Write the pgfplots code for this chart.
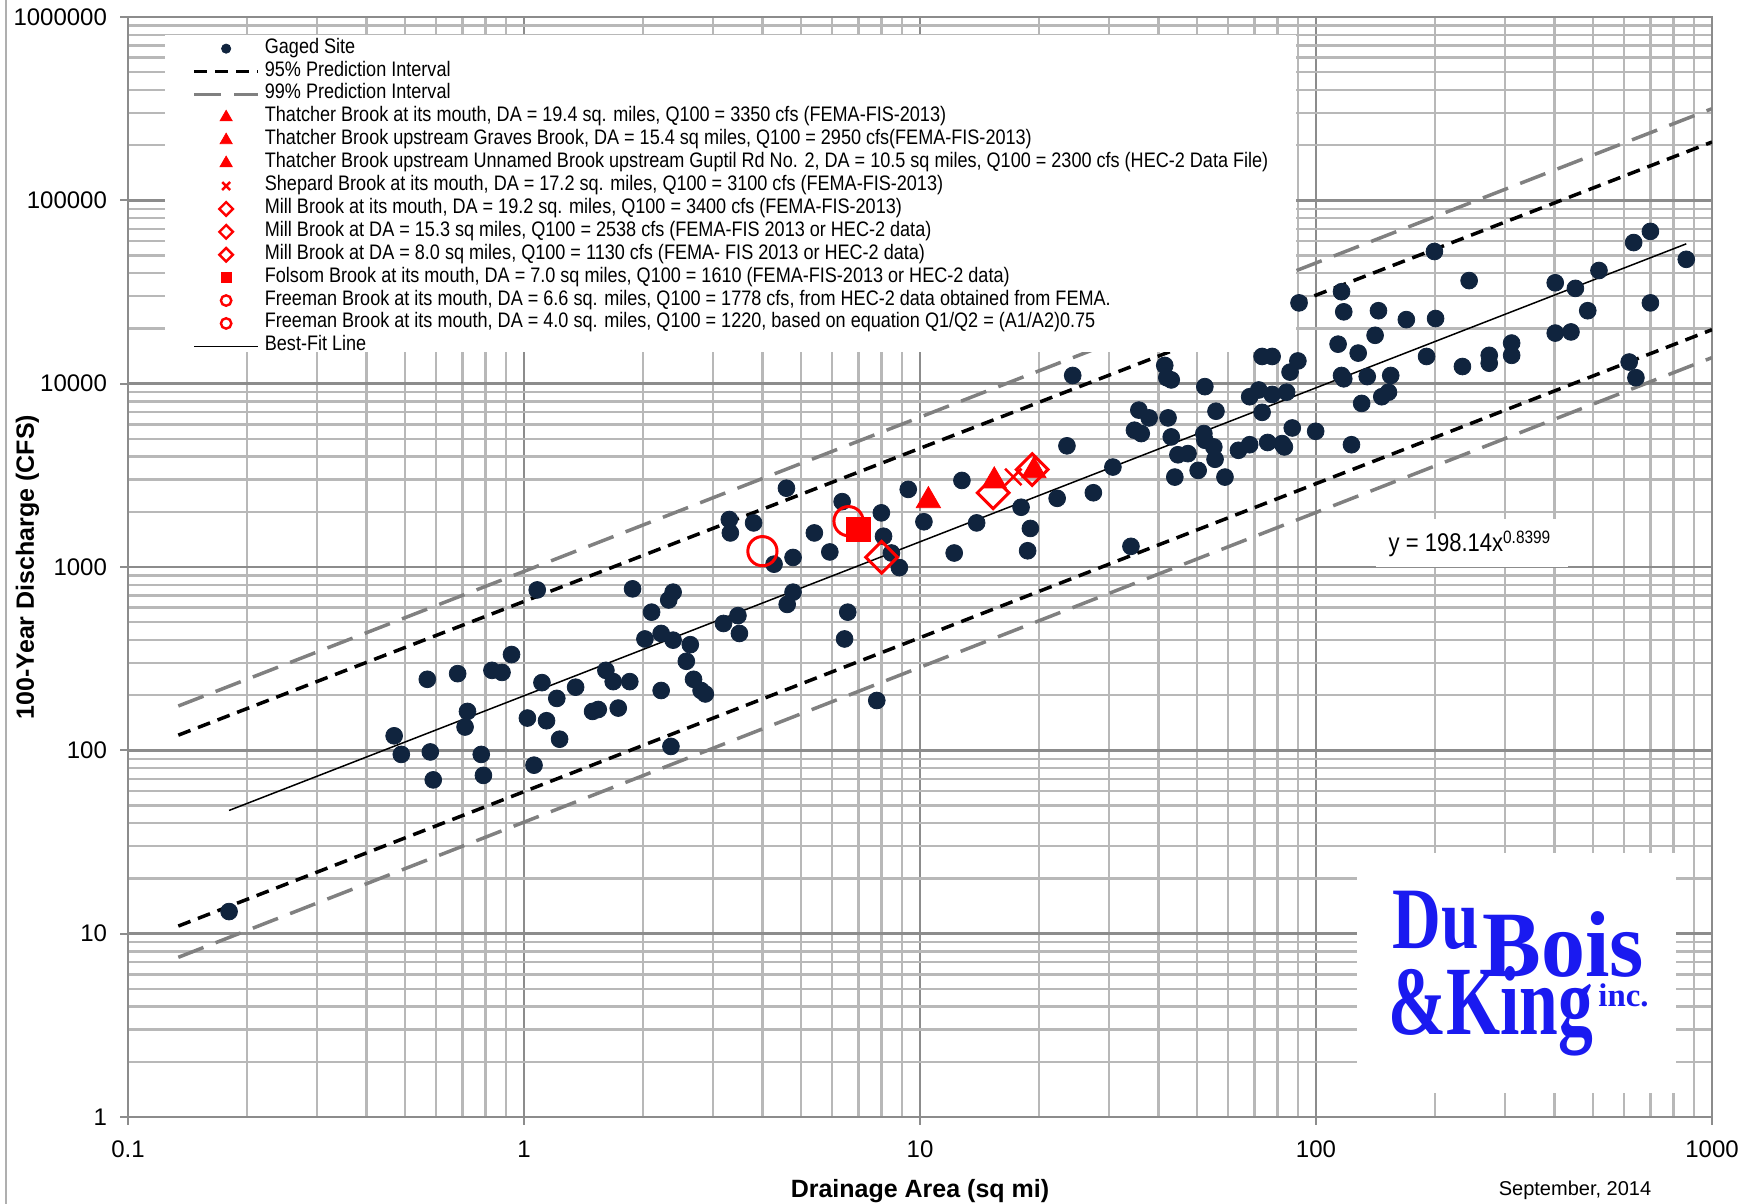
\documentclass[border=0pt]{standalone}
\usepackage{graphicx}
\usepackage{pgfplots}
\pgfplotsset{compat=1.18}
\usepackage{fontspec}
\setmainfont{Liberation Sans}
\newfontfamily\condfont{Liberation Sans}[FakeStretch=0.86]
\newfontfamily\logofont{Liberation Serif}
\definecolor{navy}{HTML}{10243E}
\definecolor{majgray}{HTML}{8C8C8C}
\definecolor{mingray}{HTML}{B8B8B8}
\definecolor{dash99}{HTML}{808080}
\definecolor{logoblue}{HTML}{1A1AF0}
\pgfplotsset{
  linelegend/.style={legend image code/.code={\path[draw=none,fill=none] (0pt,-2pt) rectangle (32pt,2pt); \draw[##1] (0pt,0pt) -- (32pt,0pt);}},
  marklegend/.style={legend image code/.code={\path[draw=none,fill=none] (0pt,-2pt) rectangle (32pt,2pt); \draw[##1] plot coordinates {(16pt,0pt)};}},
}
\begin{document}
\begin{tikzpicture}
\path[use as bounding box] (-64pt,-43.5pt) rectangle (812pt,558.5pt);
\begin{axis}[
  xmode=log, ymode=log,
  scale only axis, width=792pt, height=550pt,
  xmin=0.1, xmax=1000, ymin=1, ymax=1000000,
  xtick={0.1,1,10,100,1000}, xticklabels={0.1,1,10,100,1000},
  ytick={1,10,100,1000,10000,100000,1000000},
  yticklabels={1,10,100,1000,10000,100000,1000000},
  minor xtick={0.2,0.3,0.4,0.5,0.6,0.7,0.8,0.9,2,3,4,5,6,7,8,9,20,30,40,50,60,70,80,90,200,300,400,500,600,700,800,900},
  minor ytick={2,3,4,5,6,7,8,9,20,30,40,50,60,70,80,90,200,300,400,500,600,700,800,900,2000,3000,4000,5000,6000,7000,8000,9000,20000,30000,40000,50000,60000,70000,80000,90000,200000,300000,400000,500000,600000,700000,800000,900000},
  grid=both,
  major grid style={draw=majgray, line width=1.3pt},
  minor grid style={draw=mingray, line width=1.2pt},
  axis line style={draw=majgray, line width=1.3pt},
  tick align=outside, tick pos=left,
  major tick length=4pt, minor tick length=0pt,
  every tick/.style={draw=majgray, line width=1pt},
  tick label style={font=\fontsize{12}{14}\selectfont},
  xticklabel style={yshift=-4.5pt},
  yticklabel style={xshift=-3pt},
  xlabel={Drainage Area (sq mi)},
  ylabel={100-Year Discharge (CFS)},
  label style={font=\fontsize{12.5}{15}\selectfont\bfseries},
  xlabel style={at={(axis description cs:0.5,-0.0675)}, anchor=center},
  ylabel style={at={(axis description cs:-0.0635,0.5)}, anchor=center, rotate=0},
  legend style={draw=none, fill=none, inner sep=0pt, anchor=north west,
    at={(axis description cs:0.0404,0.982)}, row sep=0pt, column sep=2.5pt,
    font=\condfont\fontsize{10.5}{12}\selectfont,
    nodes={inner sep=0pt, text height=8pt, text depth=3.45pt}},
  legend cell align=left,
]
% Gaged sites
\addplot[only marks, mark=*, mark size=4.2pt, color=navy, forget plot] coordinates {
(0.18,13.2)(0.47,120)(0.49,95)(0.57,244)(0.58,98)(0.59,69)(0.68,262)(0.71,134)(0.72,163)
(0.78,95)(0.79,73)(0.83,273)(0.88,266)(0.93,333)(1.02,150)(1.06,83)(1.08,750)(1.11,234)
(1.14,145)(1.21,192)(1.23,115)(1.35,221)(1.49,163)(1.54,167)(1.61,273)(1.68,237)(1.73,170)
(1.85,237)(1.88,760)(2.02,405)(2.10,567)(2.22,212)(2.22,434)(2.32,661)(2.38,399)(2.38,729)
(2.35,105)(2.57,306)(2.63,377)(2.68,244)(2.80,212)(2.87,203)(3.19,492)(3.30,1815)(3.32,1534)
(3.47,543)(3.50,434)(3.80,1740)(4.28,1036)(4.60,2690)(4.62,625)(4.78,1127)(4.78,729)
(5.41,1534)(5.92,1208)(6.36,2272)(6.45,405)(6.57,567)(7.78,187)(7.99,1974)(8.09,1471)
(8.47,1192)(8.87,993)(9.34,2650)(10.23,1765)(12.2,1192)(12.76,2965)(13.9,1740)(18.0,2118)
(19.0,1623)(18.7,1226)(22.2,2369)(23.5,4580)(24.3,11080)(27.4,2541)(30.7,3509)(34.1,1296)
(34.8,5573)(35.7,7175)(36.2,5344)(37.9,6505)(41.5,12570)(42.0,10775)(43.1,10480)(42.3,6505)
(43.1,5124)(44.0,3093)(44.8,4094)(47.5,4152)(50.4,3365)(52.4,9632)(52.1,5344)(52.4,4913)
(55.2,4516)(55.6,3870)(55.9,7075)(58.9,3093)(63.7,4330)(68.0,4645)(68.0,8488)(71.7,9235)
(73.1,6976)(73.1,14070)(77.5,14070)(77.5,8730)(75.5,4777)(82.1,4710)(83.2,4516)(84.3,8981)
(87.1,5731)(86.0,11560)(90,13300)(90.6,27580)(99.8,5497)(113.7,16420)(116,11080)(117.5,10630)
(117.5,24650)(116,31730)(122.9,4645)(127.8,14680)(130.4,7805)(134.7,10930)(141,18360)
(143.8,25000)(146.6,8488)(152.4,8981)(154.4,11080)(169.1,22350)(190.2,14070)(199.1,52580)
(200.4,22660)(243.6,36500)(234.3,12400)(273.8,14270)(273.8,12930)(311.9,16650)(311.9,14270)
(401.9,35500)(401.9,18880)(440.4,19150)(451.9,33090)(485.5,25000)(518.3,41420)(617.8,13120)
(642.5,10780)(634,58830)(699,67690)(699,27580)(861,47660)
};
% prediction intervals
\addplot[black, line width=1.75pt, dash pattern=on 6.5pt off 4pt, forget plot] coordinates {(0.134,121)(1000,208000)};
\addplot[black, line width=1.75pt, dash pattern=on 6.5pt off 4pt, forget plot] coordinates {(0.134,11.0)(1000,19700)};
\addplot[dash99, line width=1.75pt, dash pattern=on 13.5pt off 6.5pt, forget plot] coordinates {(0.134,174.5)(1000,316000)};
\addplot[dash99, line width=1.75pt, dash pattern=on 13.5pt off 6.5pt, forget plot] coordinates {(0.134,7.43)(1000,13870)};
% red sites
\addplot[only marks, mark=triangle*, mark size=7pt, red, forget plot] coordinates {(19.4,3350)(15.4,2950)(10.5,2300)};
\addplot[only marks, mark=x, mark size=5.8pt, red, line width=1.3pt, forget plot] coordinates {(17.2,3100)};
\addplot[only marks, mark=square, mark size=5.6pt, mark options={rotate=45}, line width=1.5pt, red, forget plot] coordinates {(19.2,3400)(15.3,2538)(8.0,1130)};
\addplot[only marks, mark=square*, mark size=6pt, red, forget plot] coordinates {(7.0,1610)};
\addplot[only marks, mark=o, mark size=7.3pt, line width=1.5pt, red, forget plot] coordinates {(6.6,1778)(4.0,1220)};
% best fit
\addplot[black, line width=0.75pt, forget plot] coordinates {(0.18,47.0)(861,57900)};
% white box behind legend
\fill[white] (rel axis cs:0.02336,0.6955) rectangle (rel axis cs:0.7374,0.9836);
% legend
\addlegendimage{marklegend, mark=*, mark size=2.3pt, navy}
\addlegendentry{Gaged Site}
\addlegendimage{linelegend, black, line width=1.75pt, dash pattern=on 6.5pt off 4pt}
\addlegendentry{95\% Prediction Interval}
\addlegendimage{linelegend, dash99, line width=1.75pt, dash pattern=on 13.5pt off 6.5pt}
\addlegendentry{99\% Prediction Interval}
\addlegendimage{marklegend, mark=triangle*, mark size=3.5pt, red}
\addlegendentry{Thatcher Brook at its mouth, DA = 19.4 sq. miles, Q100 = 3350 cfs (FEMA-FIS-2013)}
\addlegendimage{marklegend, mark=triangle*, mark size=3.5pt, red}
\addlegendentry{Thatcher Brook upstream Graves Brook, DA = 15.4 sq miles, Q100 = 2950 cfs(FEMA-FIS-2013)}
\addlegendimage{marklegend, mark=triangle*, mark size=3.5pt, red}
\addlegendentry{Thatcher Brook upstream Unnamed Brook upstream Guptil Rd No. 2, DA = 10.5 sq miles, Q100 = 2300 cfs (HEC-2 Data File)}
\addlegendimage{marklegend, mark=x, mark size=2.8pt, line width=1.2pt, red}
\addlegendentry{Shepard Brook at its mouth, DA = 17.2 sq. miles, Q100 = 3100 cfs (FEMA-FIS-2013)}
\addlegendimage{marklegend, mark=square, mark size=2.4pt, mark options={rotate=45}, line width=1.2pt, red}
\addlegendentry{Mill Brook at its mouth, DA = 19.2 sq. miles, Q100 = 3400 cfs (FEMA-FIS-2013)}
\addlegendimage{marklegend, mark=square, mark size=2.4pt, mark options={rotate=45}, line width=1.2pt, red}
\addlegendentry{Mill Brook at DA = 15.3 sq miles, Q100 = 2538 cfs (FEMA-FIS 2013 or HEC-2 data)}
\addlegendimage{marklegend, mark=square, mark size=2.4pt, mark options={rotate=45}, line width=1.2pt, red}
\addlegendentry{Mill Brook at DA = 8.0 sq miles, Q100 = 1130 cfs (FEMA- FIS 2013 or HEC-2 data)}
\addlegendimage{marklegend, mark=square*, mark size=2.6pt, red}
\addlegendentry{Folsom Brook at its mouth, DA = 7.0 sq miles, Q100 = 1610 (FEMA-FIS-2013 or HEC-2 data)}
\addlegendimage{marklegend, mark=o, mark size=2.6pt, line width=1.2pt, red}
\addlegendentry{Freeman Brook at its mouth, DA = 6.6 sq. miles, Q100 = 1778 cfs, from HEC-2 data obtained from FEMA.}
\addlegendimage{marklegend, mark=o, mark size=2.6pt, line width=1.2pt, red}
\addlegendentry{Freeman Brook at its mouth, DA = 4.0 sq. miles, Q100 = 1220, based on equation Q1/Q2 = (A1/A2)0.75}
\addlegendimage{linelegend, black, line width=0.75pt}
\addlegendentry{Best-Fit Line}
\end{axis}
% left chart border
\draw[draw=majgray!70, line width=1pt] (-61pt,-43.5pt) -- (-61pt,558.5pt);
% equation box
\fill[white] (624pt,275pt) rectangle (720pt,299pt);
\node[font=\condfont\fontsize{12.8}{14}\selectfont, anchor=center] at (671pt,286.5pt) {y = 198.14x\textsuperscript{0.8399}};
% date
\node[font=\fontsize{10}{12}\selectfont, anchor=center] at (723.5pt,-36.5pt) {September, 2014};
% logo (one node)
\fill[white] (614.5pt,12pt) rectangle (774pt,132pt);
\node[anchor=base west, inner sep=0pt, text=logoblue, font=\logofont\bfseries] at (630pt,41pt) {%
\rlap{\hspace{2pt}\raisebox{43pt}{\scalebox{0.77}[1]{\fontsize{43.8}{44}\selectfont Du}}}%
\rlap{\hspace{47pt}\raisebox{29pt}{\scalebox{0.94}[1]{\fontsize{46.8}{47}\selectfont Bois}}}%
\rlap{\hspace{105pt}\raisebox{14pt}{\fontsize{16.4}{17}\selectfont inc.}}%
\scalebox{0.71}[1]{\fontsize{49}{50}\selectfont \&King}};
\end{tikzpicture}
\end{document}
